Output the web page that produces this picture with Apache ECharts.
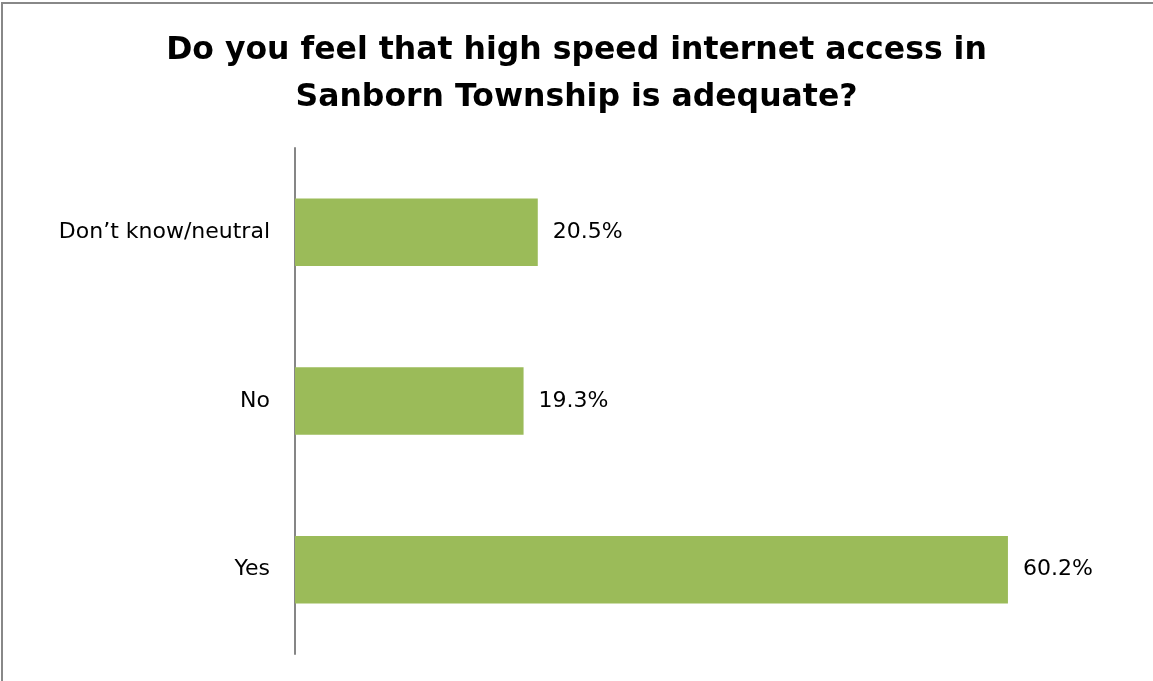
<!DOCTYPE html>
<html>
<head>
<meta charset="utf-8">
<script src="https://cdn.jsdelivr.net/npm/echarts@6/dist/echarts.min.js"></script>
<style>
html,body{margin:0;padding:0;background:#fff;}
#chart{width:1153px;height:681px;}
</style>
</head>
<body>
<div id="chart"></div>
<script>
const titleText = "Do you feel that high speed internet access in\nSanborn Township is adequate?";
const categories = ["Yes", "No", "Don\u2019t know/neutral"];
const values = [60.2, 19.3, 20.5];

const chart = echarts.init(document.getElementById('chart'), null, {renderer: 'canvas'});
chart.setOption({
  animation: false,
  backgroundColor: '#ffffff',
  title: {
    text: titleText,
    left: 'center',
    top: 22,
    textStyle: {
      fontFamily: 'DejaVu Sans',
      fontWeight: 'bold',
      fontSize: 31.5,
      lineHeight: 47,
      color: '#000'
    }
  },
  grid: {left: 295, top: 148, width: 829, height: 506, containLabel: false},
  xAxis: {
    type: 'value',
    min: 0,
    max: 70,
    show: false,
    splitLine: {show: false}
  },
  yAxis: {
    type: 'category',
    data: categories,
    axisLine: {show: true, lineStyle: {color: '#868686', width: 2}},
    axisTick: {show: false},
    axisLabel: {
      margin: 25,
      fontFamily: 'DejaVu Sans',
      fontSize: 22,
      color: '#000'
    }
  },
  series: [{
    type: 'bar',
    data: values,
    barWidth: '40%',
    itemStyle: {color: '#9BBB59'},
    label: {
      show: true,
      position: 'right',
      distance: 15,
      fontFamily: 'DejaVu Sans',
      fontSize: 22,
      color: '#000',
      formatter: p => p.value.toFixed(1) + '%'
    }
  }],
  graphic: [{
    type: 'rect',
    shape: {x: 2, y: 3, width: 1160, height: 700},
    style: {fill: 'none', stroke: '#888888', lineWidth: 2},
    silent: true
  }]
});
</script>
</body>
</html>
